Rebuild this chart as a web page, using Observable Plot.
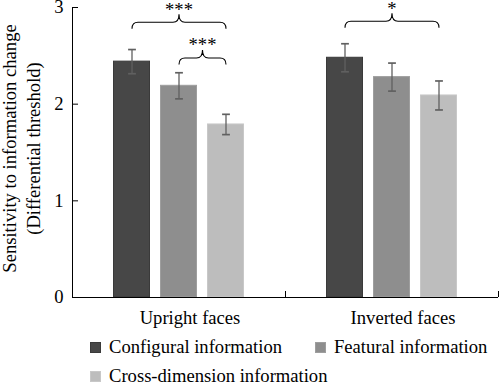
<!DOCTYPE html>
<html><head><meta charset="utf-8">
<script src="https://cdn.jsdelivr.net/npm/d3@7"></script>
<script src="https://cdn.jsdelivr.net/npm/@observablehq/plot@0.6"></script>
<style>
body{margin:0;background:#fff;overflow:hidden;position:relative;width:500px;height:384px;font-family:"Liberation Serif","Times New Roman",serif;}
#chart svg{display:block;}
#legend{position:absolute;left:90px;top:333px;display:flex;flex-wrap:wrap;width:450px;font-size:18.6px;color:#000;}
.item{width:225px;height:28.8px;display:flex;align-items:center;white-space:nowrap;}
.sw{width:11px;height:11px;margin-right:8px;flex:none;box-sizing:border-box;position:relative;top:0.5px;}
</style></head><body><div id="chart"></div><div id="legend"></div>
<script>
const groups = ["Upright faces", "Inverted faces"];
const types = ["Configural information", "Featural information", "Cross-dimension information"];
const colors = ["#474747", "#8e8e8e", "#bdbdbd"];
const outlineColors = ["#3a3a3a", "#9e9e9e", "#c8c8c8"];
const uprightMeans = [2.44, 2.19, 1.79];
const invertedMeans = [2.48, 2.28, 2.09];
const uprightErrors = [0.125, 0.135, 0.105];
const invertedErrors = [0.145, 0.145, 0.15];
const yTicks = [0, 1, 2, 3];
const yLabel = "Sensitivity to information change\n(Differential threshold)";
const braceGroup = ["Upright faces", "Upright faces", "Inverted faces"];
const braceFrom = [0, 1, 0];
const braceTo = [2, 2, 2];
const braceLevel = [2.78, 2.41, 2.79];
const braceLabel = ["***", "***", "*"];

const serif = '"Liberation Serif","Times New Roman",serif';
const means = [uprightMeans, invertedMeans];
const errors = [uprightErrors, invertedErrors];
const data = groups.flatMap((g, gi) => types.map((t, ti) => ({
  group: g, type: t, idx: ti, value: means[gi][ti], err: errors[gi][ti]
})));
const braces = braceGroup.map((g, i) => ({group: g, from: braceFrom[i], to: braceTo[i], level: braceLevel[i], label: braceLabel[i]}));

const xDomain = [-1.266, 3.266];

function braceCurve(context) {
  let pts = [];
  return {
    areaStart() {}, areaEnd() {},
    lineStart() { pts = []; },
    point(x, y) { pts.push([x, y]); },
    lineEnd() {
      if (pts.length < 2) return;
      const [[ax, ay], [bx, by]] = pts;
      const h1 = 6.5, h2 = 8, r = 6;
      const mx = (ax + bx) / 2, hy = ay - h1;
      context.moveTo(ax, ay);
      context.quadraticCurveTo(ax, hy, ax + r, hy);
      context.lineTo(mx - r, hy);
      context.quadraticCurveTo(mx, hy, mx, hy - h2);
      context.quadraticCurveTo(mx, hy, mx + r, hy);
      context.lineTo(bx - r, hy);
      context.quadraticCurveTo(bx, hy, bx, by);
    }
  };
}

const chart = Plot.plot({
  width: 500, height: 334,
  marginLeft: 72, marginRight: 2, marginTop: 7, marginBottom: 37,
  style: {fontFamily: serif, fontSize: "18.6px", color: "#000", background: "#fff"},
  fx: {domain: groups, padding: 0},
  x: {domain: xDomain},
  y: {domain: [0, 3]},
  color: {domain: types, range: colors},
  marks: [
    Plot.rect(data, {fx: "group", x1: d => d.idx - 0.5, x2: d => d.idx + 0.5, y1: 0, y2: "value", fill: "type",
      stroke: d => outlineColors[d.idx], strokeWidth: 1, insetLeft: 5.5, insetRight: 5.5}),
    Plot.link(data, {fx: "group", x1: "idx", x2: "idx", y1: d => d.value - d.err, y2: d => d.value + d.err,
      stroke: "#606060", strokeWidth: 1.3, markerStart: "tick-x", markerEnd: "tick-x"}),
    Plot.link(braces, {fx: "group", x1: "from", x2: "to", y1: "level", y2: "level", curve: braceCurve, stroke: "#000", strokeWidth: 1.1}),
    Plot.text(braces, {fx: "group", x: d => (d.from + d.to) / 2, y: "level", text: "label", dy: -19, fontSize: 18.6}),
    Plot.ruleY([0], {stroke: "#000"}),
    Plot.axisY(yTicks, {tickSize: -6, tickPadding: 15, tickFormat: d3.format("d"), label: null, stroke: "#000"}),
    Plot.axisX([xDomain[1]], {tickSize: -6, text: null, label: null, stroke: "#000"}),
    Plot.axisFx({anchor: "bottom", tickSize: 0, tickPadding: 13, dx: 11, label: null}),
    Plot.ruleX([{fx: groups[0]}], {fx: "fx", x: () => xDomain[0], y1: 0, y2: 3, stroke: "#000"}),
    Plot.text([{fx: groups[0], t: yLabel}], {fx: "fx", text: "t", frameAnchor: "left", textAnchor: "middle", rotate: -90, dx: -52, dy: -4, lineHeight: 1.25})
  ]
});
document.getElementById("chart").appendChild(chart);

const legend = document.getElementById("legend");
types.forEach((t, i) => {
  const item = document.createElement("div");
  item.className = "item";
  const sw = document.createElement("span");
  sw.className = "sw";
  sw.style.background = colors[i];
  sw.style.border = "1px solid " + outlineColors[i];
  item.appendChild(sw);
  item.appendChild(document.createTextNode(t));
  legend.appendChild(item);
});
</script></body></html>
